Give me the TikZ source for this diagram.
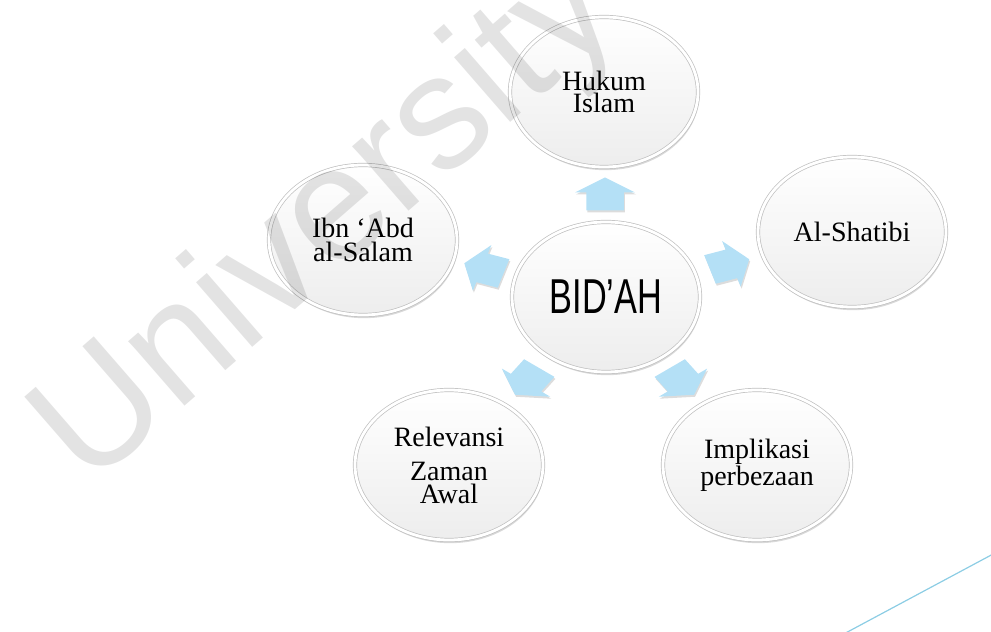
\documentclass[tikz,border=0pt]{standalone}
\usepackage{fontspec}
\setmainfont{Liberation Serif}
\newfontfamily\bidfont[FakeStretch=0.7]{Liberation Sans}
\newfontfamily\markfont{Liberation Sans}
\usetikzlibrary{shapes.geometric,calc,shadows,positioning}
\definecolor{arrowblue}{RGB}{180,224,246}
\definecolor{lineblue}{RGB}{140,205,228}
\tikzset{
  bubble/.style={ellipse, draw=gray!50, line width=0.35pt, double=white, double distance=1.4pt,
    top color=white, bottom color=gray!14,
    minimum width=94pt, minimum height=75pt, inner sep=0pt, align=center,
    font=\fontsize{14}{11.5}\selectfont,
    drop shadow={shadow xshift=0.6pt, shadow yshift=-1.6pt, opacity=0.3, fill=gray}},
  pics/blockarrow/.style={code={
    \fill (-16,-15) -- (2,-15) -- (2,-24) -- (17,0) -- (2,24) -- (2,15) -- (-16,15) -- cycle;}}
}
\begin{document}
\begin{tikzpicture}[x=0.5pt, y=0.5pt, line join=round, line cap=round]
\useasboundingbox (0,0) rectangle (991,632);
\clip (0,0) rectangle (991,632);
\node[bubble, font=\bidfont\fontsize{24.5}{24.5}\selectfont] (bid) at (606,335) {BID’AH};
\node[bubble] (huk) at (604,540) {Hukum\\[-0.5pt]Islam};
\node[bubble] (sha) at (852,400) {Al-Shatibi};
\node[bubble] (imp) at (757,167) {Implikasi\\perbezaan};
\node[bubble] (rel) at (449,167) {Relevansi\\[5.5pt]Zaman\\Awal};
\node[bubble] (ibn) at (363,392) {Ibn ‘Abd\\[0.5pt]al-Salam};
\foreach \n/\a in {huk/90,sha/18,imp/-54,rel/-126,ibn/162}{
  \pic[xscale=1.25, rotate=\a, gray!60, opacity=0.45] at ($(bid)!0.5!(\n)+(1,-2)$) {blockarrow};
  \pic[xscale=1.25, rotate=\a, arrowblue] at ($(bid)!0.5!(\n)$) {blockarrow};
}
\coordinate (l1) at (840,-4);
\coordinate (l2) at (995,79);
\draw[lineblue, line width=0.6pt] (l1) -- (l2);
\node[rotate=41, text=black, text opacity=0.11, font=\markfont\fontsize{81}{81}\selectfont] (mark) at (329,407) {University};
\end{tikzpicture}
\end{document}
